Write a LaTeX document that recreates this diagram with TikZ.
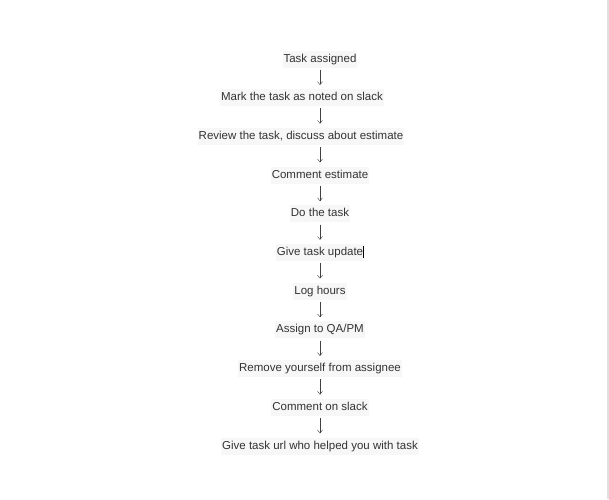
\documentclass[tikz,border=0pt]{standalone}
\usepackage{fontspec}
\setmainfont{Liberation Sans}
\usetikzlibrary{arrows.meta}
\tikzset{
    stepnode/.style={anchor=base, inner xsep=1pt, inner ysep=3pt, text height=8.5pt, text depth=2.5pt,
        fill=black!3, text=black!80, font=\fontsize{11.5pt}{13pt}\selectfont},
    steparrow/.style={->, thin, black!75, shorten <=2pt, shorten >=4pt}
}
\begin{document}
\begin{tikzpicture}[>={Straight Barb[length=3pt,width=5pt]}, x=1pt, y=1pt]
    \useasboundingbox (0,0) rectangle (609,-499);
    \fill[white] (0,0) rectangle (609,-499);
    \draw[black!12, line width=1.2pt] (608,0)--(608,-499);
    \coordinate (axis) at (320,0);
    \foreach \x/\t [count=\i] in {320/Task assigned, 302/Mark the task as noted on slack,
        301/{Review the task, discuss about estimate}, 320/Comment estimate, 320/Do the task,
        320/Give task update, 320/Log hours, 320/{Assign to QA/PM}, 320/Remove yourself from assignee,
        320/Comment on slack, 320/Give task url who helped you with task}
        \node[stepnode] (n\i) at (\x,{-62-38.7*(\i-1)}) {\t};
    \foreach \i [evaluate=\i as \j using int(\i+1)] in {1,...,10}
        \draw[steparrow] (n\i.south -| axis) -- (n\j.north -| axis);
    % caret after the update text
    \draw[black, line width=.8pt] ([xshift=-.5pt,yshift=-2.5pt]n6.base east)--++(0,12);
\end{tikzpicture}
\end{document}
